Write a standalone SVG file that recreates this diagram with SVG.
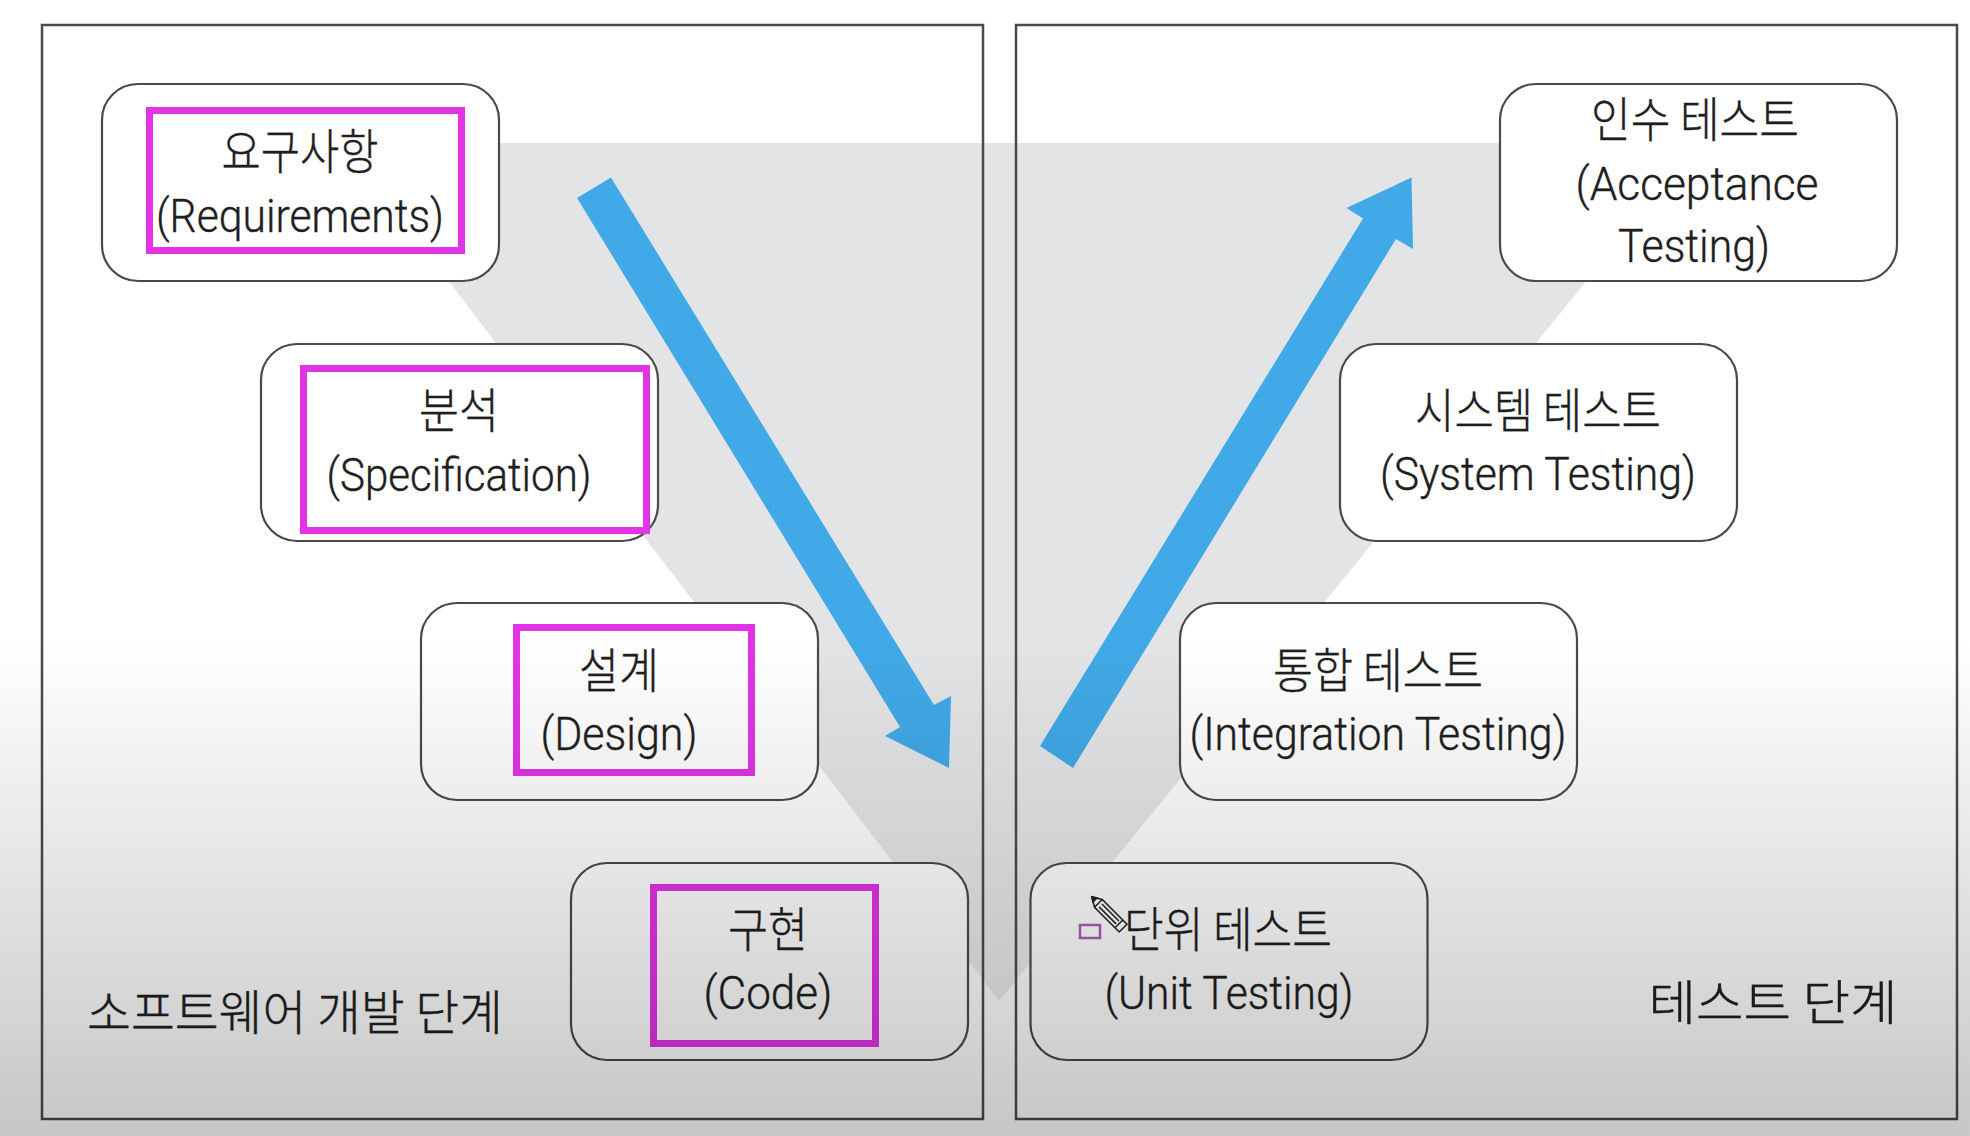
<svg xmlns="http://www.w3.org/2000/svg" width="1970" height="1136" viewBox="0 0 1970 1136">
<style>
.panel{fill:none;stroke:#4a4a4a;stroke-width:2.5}
.node{fill:#fff;stroke:#4a4a4a;stroke-width:2.2}
.frame{fill:none;stroke:#e234e6;stroke-width:7}
.arrow{fill:#41a9e8}
.kr,.en{fill:#1f1f1f;stroke:#1f1f1f;stroke-width:.4;text-anchor:middle}
.kr{font-family:"Noto Sans CJK KR","Noto Sans",sans-serif;font-size:48px;font-weight:300}
.en{font-family:Roboto,"Liberation Sans",sans-serif;font-size:47px;font-weight:300}
</style>
<defs>
<linearGradient id="fade" gradientUnits="userSpaceOnUse" x1="0" y1="640" x2="0" y2="1120">
<stop offset="0" stop-color="#000" stop-opacity="0"/>
<stop offset="1" stop-color="#000" stop-opacity="0.215"/>
</linearGradient>
<linearGradient id="funnel-fill" gradientUnits="userSpaceOnUse" x1="0" y1="700" x2="0" y2="1001">
<stop offset="0" stop-color="#e3e4e6"/>
<stop offset="1" stop-color="#ebecee"/>
</linearGradient>
</defs>
<rect width="1970" height="1136" fill="#fff"/>
<polygon id="funnel" points="343,143 1699,143 999,1001" fill="url(#funnel-fill)"/>
<rect class="panel" x="42" y="25" width="941" height="1094"/>
<rect class="panel" x="1016" y="25" width="941" height="1094"/>
<g id="connectors">
<polygon class="arrow" points="577,198 611,177.500 934,705 951,696 949,768 885,736 900,727"/>
<polygon class="arrow" points="1040,746 1073,768 1396,239 1413,249 1411.500,177.500 1346.500,208 1363,218.500"/>
</g>
<g id="node-requirements">
<rect class="node" x="102" y="84" width="397" height="197" rx="36"/>
<rect class="frame" x="149.500" y="110.500" width="312" height="140"/>
<text class="kr" x="300" y="169" textLength="157" lengthAdjust="spacingAndGlyphs">요구사항</text>
<text class="en" x="300" y="232" textLength="288" lengthAdjust="spacingAndGlyphs">(Requirements)</text>
</g>
<g id="node-specification">
<rect class="node" x="261" y="344" width="397" height="197" rx="36"/>
<rect class="frame" x="303.500" y="368.500" width="343" height="162"/>
<text class="kr" x="459" y="428" textLength="80" lengthAdjust="spacingAndGlyphs">분석</text>
<text class="en" x="459" y="491" textLength="265" lengthAdjust="spacingAndGlyphs">(Specification)</text>
</g>
<g id="node-design">
<rect class="node" x="421" y="603" width="397" height="197" rx="36"/>
<rect class="frame" x="516.500" y="627.500" width="235" height="145"/>
<text class="kr" x="619" y="688" textLength="80" lengthAdjust="spacingAndGlyphs">설계</text>
<text class="en" x="619" y="750" textLength="157" lengthAdjust="spacingAndGlyphs">(Design)</text>
</g>
<g id="node-code">
<rect class="node" x="571" y="863" width="397" height="197" rx="36"/>
<rect class="frame" x="653.500" y="887.500" width="222" height="156"/>
<text class="kr" x="768" y="947" textLength="80" lengthAdjust="spacingAndGlyphs">구현</text>
<text class="en" x="768" y="1009" textLength="129" lengthAdjust="spacingAndGlyphs">(Code)</text>
</g>
<g id="label-dev"><text class="kr" x="295" y="1030" textLength="416" lengthAdjust="spacingAndGlyphs">소프트웨어 개발 단계</text></g>
<g id="node-acceptance">
<rect class="node" x="1500" y="84" width="397" height="197" rx="36"/>
<text class="kr" x="1695" y="137" textLength="208" lengthAdjust="spacingAndGlyphs">인수 테스트</text>
<text class="en" x="1697" y="200" textLength="243" lengthAdjust="spacingAndGlyphs">(Acceptance</text>
<text class="en" x="1694" y="262" textLength="152" lengthAdjust="spacingAndGlyphs">Testing)</text>
</g>
<g id="node-system">
<rect class="node" x="1340" y="344" width="397" height="197" rx="36"/>
<text class="kr" x="1538" y="428" textLength="246" lengthAdjust="spacingAndGlyphs">시스템 테스트</text>
<text class="en" x="1538" y="490" textLength="316" lengthAdjust="spacingAndGlyphs">(System Testing)</text>
</g>
<g id="node-integration">
<rect class="node" x="1180" y="603" width="397" height="197" rx="36"/>
<text class="kr" x="1378" y="688" textLength="210" lengthAdjust="spacingAndGlyphs">통합 테스트</text>
<text class="en" x="1378" y="750" textLength="377" lengthAdjust="spacingAndGlyphs">(Integration Testing)</text>
</g>
<g id="node-unit">
<rect class="node" x="1030.500" y="863" width="397" height="197" rx="36"/>
<text class="kr" x="1228" y="947" textLength="208" lengthAdjust="spacingAndGlyphs">단위 테스트</text>
<text class="en" x="1229" y="1009" textLength="249" lengthAdjust="spacingAndGlyphs">(Unit Testing)</text>
<rect x="1080" y="925" width="20" height="13" fill="none" stroke="#ad5cb8" stroke-width="2.500"/>
<g id="pencil" transform="translate(1092 897) rotate(45)">
<path d="M0 0 L9 -5.500 H44 V5.500 H9 Z M9 -5.500 V5.500 M38 -5.500 V5.500 M12 -2 H36 M12 2 H36" fill="#fff" stroke="#222" stroke-width="1.500"/>
<path d="M0 0 L4 -2.500 V2.500 Z" fill="#222" stroke="#222" stroke-width="2"/>
</g>
</g>
<g id="label-test"><text class="kr" x="1773" y="1020" textLength="249" lengthAdjust="spacingAndGlyphs">테스트 단계</text></g>
<rect id="fade-overlay" width="1970" height="1136" fill="url(#fade)" style="pointer-events:none"/>
</svg>
